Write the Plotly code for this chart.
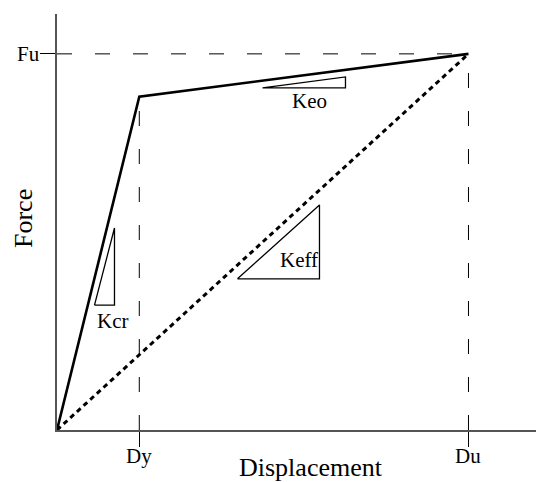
import plotly.graph_objects as go

# Characteristic points (arbitrary units)
disp_labels = ["Dy", "Du"]
disp_values = [2.0, 10.0]
force_labels = ["Fu"]
force_values = [100.0]
yield_force = 88.6

# Capacity curve
curve_x = [0.0, 2.0, 10.0]
curve_y = [0.0, 88.6, 100.0]

# Secant (effective stiffness) line
secant_x = [0.0, 10.0]
secant_y = [0.0, 100.0]

# Stiffness triangles
kcr_x = [0.911, 1.397, 1.397, 0.911]
kcr_y = [33.2, 33.2, 53.7, 33.2]
keff_x = [4.386, 6.379, 6.379, 4.386]
keff_y = [40.2, 40.2, 59.8, 40.2]
keo_x = [4.994, 7.011, 7.011, 4.994]
keo_y = [90.96, 90.96, 93.88, 90.96]

labels = ["Kcr", "Keff", "Keo"]
label_x = [1.349, 5.881, 6.148]
label_y = [29.1, 45.3, 87.5]

FONT = "Liberation Serif, Times New Roman, serif"

fig = go.Figure()

guide = dict(color="black", width=1, dash="15px,23px")
fig.add_trace(go.Scatter(x=[0, disp_values[1]], y=[force_values[0]] * 2, mode="lines", line=guide, hoverinfo="skip"))
fig.add_trace(go.Scatter(x=[disp_values[0]] * 2, y=[0, yield_force], mode="lines", line=guide, hoverinfo="skip"))
fig.add_trace(go.Scatter(x=[disp_values[1]] * 2, y=[0, force_values[0]], mode="lines", line=guide, hoverinfo="skip"))

fig.add_trace(go.Scatter(x=secant_x, y=secant_y, mode="lines",
                         line=dict(color="black", width=3, dash="5px,4px")))
fig.add_trace(go.Scatter(x=curve_x, y=curve_y, mode="lines",
                         line=dict(color="black", width=2.6)))

for tx, ty in [(kcr_x, kcr_y), (keff_x, keff_y), (keo_x, keo_y)]:
    fig.add_trace(go.Scatter(x=tx, y=ty, mode="lines", line=dict(color="black", width=1.3)))

for t, lx, ly in zip(labels, label_x, label_y):
    fig.add_annotation(x=lx, y=ly, text=t, showarrow=False,
                       font=dict(family=FONT, size=21, color="black"),
                       xanchor="center", yanchor="middle")

# Tick labels placed as text next to the ticks
for t, v in zip(disp_labels, disp_values):
    fig.add_annotation(x=v, xref="x", y=-0.0625, yref="paper", text=t, showarrow=False,
                       font=dict(family=FONT, size=21, color="black"),
                       xanchor="center", yanchor="middle")
for t, v in zip(force_labels, force_values):
    fig.add_annotation(x=-0.0303, xref="paper", y=v, yref="y", text=t, showarrow=False,
                       font=dict(family=FONT, size=21, color="black"),
                       xanchor="right", yanchor="middle")

fig.add_annotation(xref="paper", yref="paper", x=0.5141, y=-0.091, text="Displacement",
                   showarrow=False, font=dict(family=FONT, size=26, color="black"),
                   xanchor="center", yanchor="middle")
fig.add_annotation(xref="paper", yref="paper", x=-0.0687, y=0.5096, text="Force",
                   showarrow=False, textangle=-90, font=dict(family=FONT, size=26, color="black"),
                   xanchor="center", yanchor="middle")

# The page body has an 8px margin; the plot area is placed to match the window.
fig.update_layout(
    width=544, height=474,
    margin=dict(l=49, r=0, t=6, b=52),
    paper_bgcolor="white", plot_bgcolor="white",
    showlegend=False,
    font=dict(family=FONT, size=20, color="black"),
    xaxis=dict(range=[0, 12.03], showgrid=False, zeroline=False,
               showline=True, linecolor="#555555", linewidth=1.5,
               tickmode="array", tickvals=disp_values, showticklabels=False,
               ticks="outside", ticklen=15, tickcolor="black", tickwidth=1),
    yaxis=dict(range=[0, 110.6], showgrid=False, zeroline=False,
               showline=True, linecolor="#555555", linewidth=1.5,
               tickmode="array", tickvals=force_values, showticklabels=False,
               ticks="outside", ticklen=15, tickcolor="black", tickwidth=1),
)

fig.write_html("out.html")
